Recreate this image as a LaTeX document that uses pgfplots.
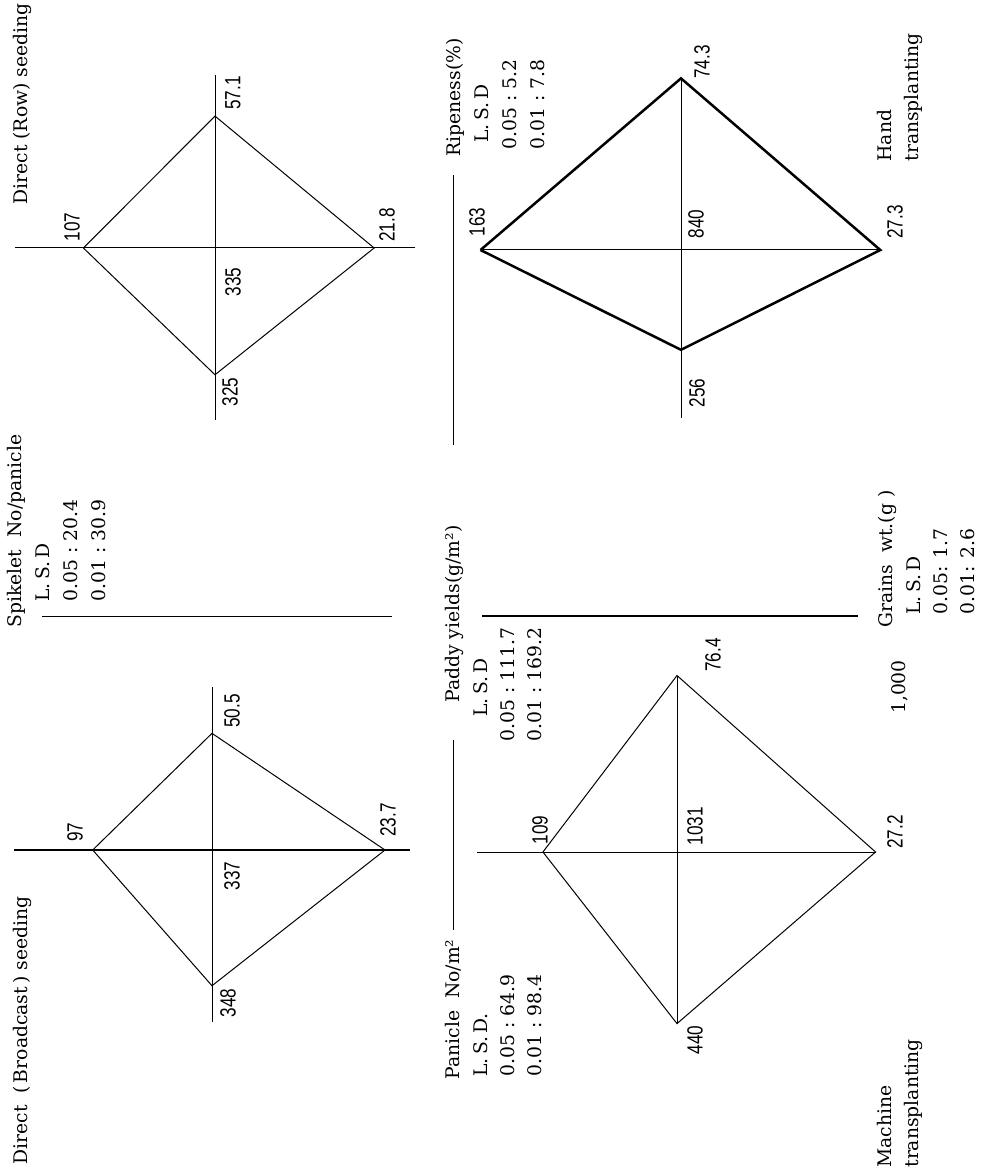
\documentclass[border=0pt]{standalone}
\usepackage{fontspec}
\setmainfont{DejaVu Serif}
\newfontfamily\numfont{Liberation Sans}
\usepackage{graphicx}
\usepackage{pgfplots}
\usepackage{pgfplotstable}
\pgfplotsset{compat=1.18}

% arms: spikelet (left), ripeness (up), grain wt (right), panicle (down)
% k = drawing length per unit of the value
\pgfplotstableread{
val  k    ux uy
107  1.23 -1 0
57.1 2.31 0  -1
21.8 7.3  1  0
325  0.39 0  1
107  1.23 -1 0
}\rowseed
\pgfplotstableread{
val  k    ux uy
97   1.23 -1 0
50.5 2.31 0  -1
23.7 7.3  1  0
348  0.39 0  1
97   1.23 -1 0
}\broadseed
\pgfplotstableread{
val  k    ux uy
163  1.23 -1 0
74.3 2.31 0  -1
27.3 7.3  1  0
256  0.39 0  1
163  1.23 -1 0
}\handtr
\pgfplotstableread{
val  k    ux uy
109  1.23 -1 0
76.4 2.31 0  -1
27.2 7.3  1  0
440  0.39 0  1
109  1.23 -1 0
}\machtr

\newcommand{\tfont}{\fontsize{7.5}{9}\selectfont}
\newcommand{\vfont}{\numfont\fontsize{8.8}{10}\selectfont}
\newcommand{\tlab}[3]{\node[rotate=90, anchor=base west, inner sep=0pt, font=\tfont] at (axis cs:#1,#2) {#3};}
\newcommand{\vlab}[3]{\node[rotate=90, inner sep=0pt, font=\vfont] at (axis cs:#1,#2) {\scalebox{0.78}[1]{#3}};}
\newcommand{\diam}[3]{\addplot table[x expr={#2+\thisrow{val}*\thisrow{k}*\thisrow{ux}}, y expr={#3+\thisrow{val}*\thisrow{k}*\thisrow{uy}}] {#1};}

\begin{document}
\begin{tikzpicture}
\begin{axis}[
    x=0.4pt, y=0.4pt, y dir=reverse,
    xmin=0, xmax=986, ymin=0, ymax=1175,
    hide axis, clip=false,
    cycle list={{black, solid, mark=none, line width=1pt, line join=miter}},
]
\path (rel axis cs:0,0) rectangle (rel axis cs:1,1);

% Direct (Row) seeding
\addplot coordinates {(15,248) (415,248)};
\addplot coordinates {(215,75) (215,420)};
\diam{\rowseed}{215}{248}
% Direct (Broadcast) seeding
\addplot coordinates {(14,850) (410,850)};
\addplot coordinates {(212,687) (212,1022)};
\diam{\broadseed}{212}{850}
% Hand transplanting
\addplot coordinates {(481,250) (880,250)};
\addplot coordinates {(681,78) (681,418)};
\diam{\handtr}{681}{250}
% Machine transplanting
\addplot coordinates {(477,852) (876,852)};
\addplot coordinates {(677,676) (677,1024)};
\diam{\machtr}{677}{852}

% key cross
\addplot coordinates {(42,616) (392,616)};
\addplot coordinates {(482,616) (858,616)};
\addplot coordinates {(453,175) (453,445)};
\addplot coordinates {(453,740) (453,930)};

% titles
\tlab{27}{205}{Direct (Row) seeding}
\tlab{28}{1165}{Direct\ \ (\,Broadcast\,) seeding}
\tlab{891}{162}{Hand}
\tlab{918}{162}{transplanting}
\tlab{891}{1168}{Machine}
\tlab{918}{1168}{transplanting}

% key texts
\tlab{21}{628}{Spikelet\ \ No/panicle}
\tlab{50}{602}{L.\,S.\,D}
\tlab{78}{602}{0.05 :\ 20.4}
\tlab{106}{602}{0.01 :\ 30.9}

\tlab{460}{157}{Ripeness(\%)}
\tlab{488}{143}{L.\,S.\,D}
\tlab{516}{150}{0.05 :\ 5.2}
\tlab{544}{150}{0.01 :\ 7.8}

\tlab{459}{703}{Paddy\ yields(g/m²)}
\tlab{487}{717}{L.\,S.\,D}
\tlab{514}{742}{0.05 :\ 111.7}
\tlab{541}{742}{0.01 :\ 169.2}

\tlab{459}{1080}{Panicle\ \ No/m²}
\tlab{487}{1077}{L.\,S.\,D.}
\tlab{514}{1077}{0.05 :\ 64.9}
\tlab{541}{1077}{0.01 :\ 98.4}

\tlab{892}{628}{Grains\ \ wt.(g\ )}
\tlab{920}{615}{L.\,S.\,D}
\tlab{947}{615}{0.05: 1.7}
\tlab{974}{615}{0.01: 2.6}

\node[rotate=90, inner sep=0pt, font=\tfont] at (axis cs:900,687) {1,000};

% vertex values
\vlab{72}{227}{107}
\vlab{233}{93}{57.1}
\vlab{387}{225}{21.8}
\vlab{230}{392}{325}
\vlab{233}{282}{335}

\vlab{75}{832}{97}
\vlab{232}{711}{50.5}
\vlab{388}{820}{23.7}
\vlab{228}{1003}{348}
\vlab{232}{876}{337}

\vlab{477}{222}{163}
\vlab{702}{62}{74.3}
\vlab{895}{222}{27.3}
\vlab{697}{393}{256}
\vlab{696}{224}{840}

\vlab{540}{830}{109}
\vlab{713}{655}{76.4}
\vlab{895}{832}{27.2}
\vlab{695}{1040}{440}
\vlab{695}{826}{1031}
\end{axis}
\end{tikzpicture}
\end{document}
